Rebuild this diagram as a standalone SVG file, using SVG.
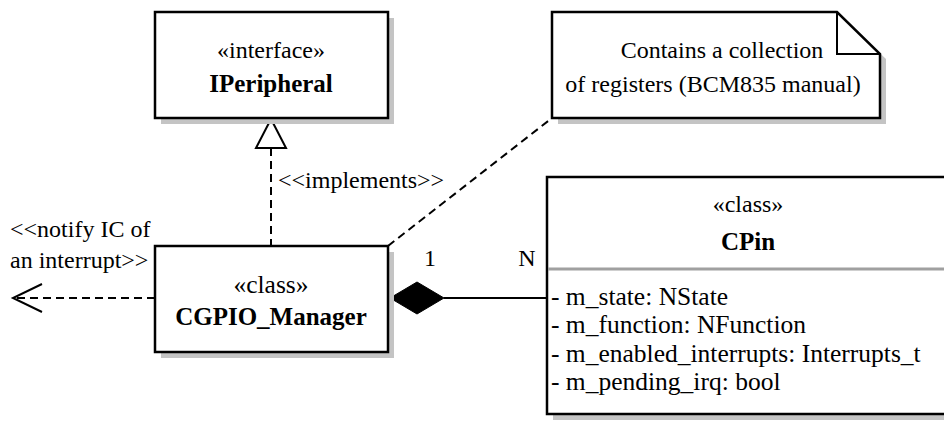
<svg xmlns="http://www.w3.org/2000/svg" width="944" height="421" viewBox="0 0 944 421">
<defs>
<style>
.box{fill:#fff;stroke:#000;stroke-width:2.5}
.shadow{fill:#c4c4c4;stroke:none}
.t{font-family:"Liberation Serif","Times New Roman",serif;font-size:24px;fill:#000}
.a{font-family:"Liberation Serif","Times New Roman",serif;font-size:25.5px;fill:#000}
.b{font-family:"Liberation Serif","Times New Roman",serif;font-size:25px;font-weight:bold;fill:#000}
.c{text-anchor:middle}
.dash{fill:none;stroke:#000;stroke-width:2;stroke-dasharray:8 5}
.solid{fill:none;stroke:#000;stroke-width:2}
</style>
</defs>
<rect width="944" height="421" fill="#fff"/>

<g id="connectors">
  <line class="dash" x1="271" y1="148" x2="271" y2="246"/>
  <polygon points="271,119 256,148 286,148" fill="#fff" stroke="#000" stroke-width="2"/>
  <text class="t" x="278" y="188">&lt;&lt;implements&gt;&gt;</text>
  <line class="dash" x1="388" y1="246" x2="552" y2="118"/>
  <line class="dash" x1="155" y1="298" x2="14" y2="298"/>
  <polyline class="solid" points="42,284 13,298 42,312"/>
  <text class="t" x="10" y="237">&lt;&lt;notify IC of</text>
  <text class="t" x="10" y="268">an interrupt&gt;&gt;</text>
  <line class="solid" x1="444" y1="298" x2="547" y2="298"/>
  <polygon points="390,298 417,282 444,298 417,314" fill="#000" stroke="#000" stroke-width="1"/>
  <text class="t c" x="430" y="266">1</text>
  <text class="t c" x="527" y="266">N</text>
</g>

<g id="IPeripheral">
  <rect class="shadow" x="161" y="18" width="233" height="106"/>
  <rect class="box" x="155" y="12" width="233" height="106"/>
  <text class="t c" x="271" y="58">«interface»</text>
  <text class="b c" x="271" y="92">IPeripheral</text>
</g>

<g id="note">
  <polygon class="shadow" points="558,18 843,18 886,59 886,124 558,124"/>
  <polygon class="box" points="552,12 837,12 880,54 880,118 552,118"/>
  <polyline class="solid" points="837,12 837,54 880,54" stroke-width="2.5"/>
  <text class="t c" x="722" y="58">Contains a collection</text>
  <text class="t c" x="713" y="92">of registers (BCM835 manual)</text>
</g>

<g id="CGPIO_Manager">
  <rect class="shadow" x="161" y="252" width="233" height="106"/>
  <rect class="box" x="155" y="246" width="233" height="106"/>
  <text class="a c" x="271" y="293">«class»</text>
  <text class="b c" x="271" y="325">CGPIO_Manager</text>
</g>

<g id="CPin">
  <rect class="shadow" x="553" y="183" width="402" height="237"/>
  <rect class="box" x="547" y="177" width="402" height="237"/>
  <line x1="548" y1="269" x2="949" y2="269" stroke="#a0a0a0" stroke-width="3"/>
  <text class="t c" x="748" y="212">«class»</text>
  <text class="b c" x="748" y="250">CPin</text>
  <text class="a" x="551" y="305">- m_state: NState</text>
  <text class="a" x="551" y="333">- m_function: NFunction</text>
  <text class="a" x="551" y="362">- m_enabled_interrupts: Interrupts_t</text>
  <text class="a" x="551" y="390">- m_pending_irq: bool</text>
</g>
</svg>
